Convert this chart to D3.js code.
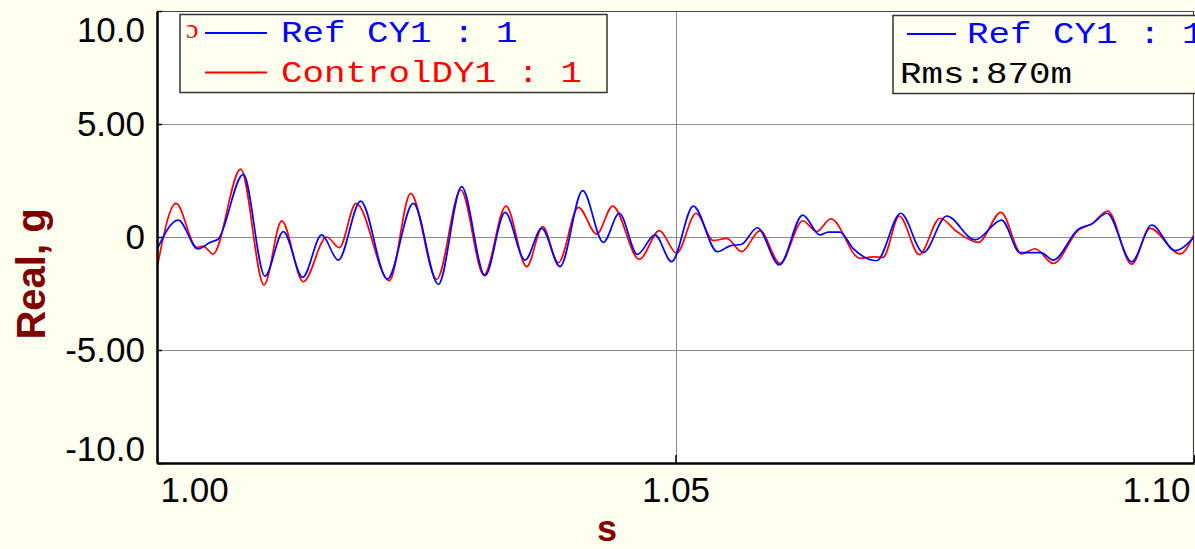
<!DOCTYPE html>
<html><head><meta charset="utf-8">
<script src="https://cdn.jsdelivr.net/npm/d3@7"></script>
<style>html,body{margin:0;padding:0;background:#FFFFF0;} svg{display:block}</style>
</head><body><svg id="c" width="1195" height="549"></svg>
<script>
// ---- data ----
const refTime = [1.00000,1.00205,1.00395,1.00511,1.00588,1.00832,1.01041,1.01218,1.01405,1.01588,1.01748,1.01964,1.02221,1.02472,1.02713,1.02938,1.03163,1.03356,1.03549,1.03710,1.03886,1.04105,1.04304,1.04458,1.04632,1.04802,1.04963,1.05172,1.05403,1.05526,1.05638,1.05789,1.06001,1.06227,1.06393,1.06471,1.06586,1.06712,1.06940,1.07172,1.07390,1.07615,1.07888,1.08145,1.08322,1.08524,1.08643,1.08884,1.09014,1.09161,1.09399,1.09592,1.09817,1.10000];
const refValues = [-0.55,0.75,-0.53,-0.24,-0.10,2.77,-1.73,0.24,-1.78,0.09,-1.02,1.59,-1.86,1.49,-2.09,2.23,-1.71,1.09,-1.02,0.38,-1.31,2.05,-0.24,1.05,-0.77,0.09,-1.09,1.37,-0.65,-0.39,-0.32,0.41,-1.24,0.97,0.09,0.22,0.22,-0.50,-1.05,1.05,-0.69,0.93,-0.13,0.75,-0.69,-0.69,-1.02,0.35,0.58,1.05,-1.10,0.53,-0.60,0.00];
const ctrlTime = [1.00000,1.00183,1.00383,1.00444,1.00540,1.00807,1.01032,1.01202,1.01411,1.01636,1.01758,1.01919,1.02240,1.02446,1.02697,1.02929,1.03153,1.03365,1.03565,1.03719,1.03870,1.04063,1.04240,1.04394,1.04651,1.04844,1.05011,1.05198,1.05365,1.05494,1.05638,1.05815,1.06008,1.06227,1.06362,1.06497,1.06779,1.06905,1.07001,1.07158,1.07351,1.07551,1.07712,1.07920,1.08139,1.08338,1.08467,1.08643,1.08884,1.09014,1.09168,1.09399,1.09576,1.09865,1.10000];
const ctrlValues = [-1.38,1.49,-0.46,-0.40,-0.75,3.00,-2.12,0.71,-1.98,0.00,-0.47,1.49,-1.93,1.93,-1.87,2.08,-1.68,1.37,-1.31,0.46,-1.14,1.31,0.13,1.37,-0.99,0.28,-0.72,1.05,-0.16,-0.06,-0.65,0.28,-1.17,0.72,0.24,0.80,-0.94,-0.88,-0.90,0.93,-0.78,0.83,0.24,-0.24,1.09,-0.75,-0.52,-1.17,0.30,0.58,1.15,-1.20,0.38,-0.75,0.10];
const xTicks = [1.00, 1.05, 1.10];
const xTickLabels = ["1.00", "1.05", "1.10"];
const yTicks = [10, 5, 0, -5, -10];
const yTickLabels = ["10.0", "5.00", "0", "-5.00", "-10.0"];
const gridY = [5, 0, -5];
const gridX = [1.05];
const legendLabels = ["Ref CY1 : 1", "ControlDY1 : 1"];
const rmsLabel = "Rms:870m";
const xTitle = "s";
const yTitle = "Real, g";

// ---- layout ----
const L = 157, R = 1194, T = 11, B = 463;
const svg = d3.select("#c");
const x = d3.scaleLinear().domain([1.00, 1.10]).range([L, R]);
const y = d3.scaleLinear().domain([-10, 10]).range([B, T]);

svg.append("rect").attr("width", 1195).attr("height", 549).attr("fill", "#FFFFF0");
svg.append("rect").attr("x", L).attr("y", T).attr("width", R - L).attr("height", B - T).attr("fill", "#FFFFFF");

// grid
svg.append("g").selectAll("line").data(gridY).join("line")
  .attr("x1", L).attr("x2", R).attr("y1", d => y(d) + 0.5).attr("y2", d => y(d) + 0.5)
  .attr("stroke", "#8c8c8c").attr("stroke-width", 1);
svg.append("g").selectAll("line").data(gridX).join("line")
  .attr("x1", d => Math.round(x(d)) + 0.5).attr("x2", d => Math.round(x(d)) + 0.5).attr("y1", T).attr("y2", B)
  .attr("stroke", "#8c8c8c").attr("stroke-width", 1);

// frame top/right
svg.append("line").attr("x1", L).attr("x2", R).attr("y1", T + 0.5).attr("y2", T + 0.5).attr("stroke", "#444").attr("stroke-width", 1.2);
svg.append("line").attr("x1", R - 0.5).attr("x2", R - 0.5).attr("y1", T).attr("y2", B).attr("stroke", "#444").attr("stroke-width", 1.2);

// lines
svg.append("defs").append("clipPath").attr("id", "clip").append("rect")
  .attr("x", L).attr("y", T).attr("width", R - L).attr("height", B - T);
const ctrlData = ctrlTime.map((t, i) => [t, ctrlValues[i]]);
const refData = refTime.map((t, i) => [t, refValues[i]]);
const line = d3.line().x(d => x(d[0])).y(d => y(d[1])).curve(d3.curveMonotoneX);
const gl = svg.append("g").attr("clip-path", "url(#clip)");
gl.append("path").attr("d", line(ctrlData)).attr("fill", "none").attr("stroke", "#FF0000").attr("stroke-width", 1.7);
gl.append("path").attr("d", line(refData)).attr("fill", "none").attr("stroke", "#0000FF").attr("stroke-width", 1.7);

// axes
const axFont = "'Liberation Sans', Arial, sans-serif";
const yAxis = svg.append("g").attr("transform", `translate(${L},0)`)
  .call(d3.axisLeft(y).tickValues(yTicks).tickFormat((d, i) => yTickLabels[i]).tickSize(-5).tickSizeOuter(0).tickPadding(12));
yAxis.select(".domain").attr("stroke", "#000").attr("stroke-width", 2.5);
yAxis.selectAll(".tick line").attr("stroke", "#000").attr("stroke-width", 1.5);
yAxis.selectAll(".tick text").attr("font-family", axFont).attr("font-size", 35).attr("fill", "#000")
  .attr("y", d => d === 10 ? 19 : (d === -10 ? -14 : 0));

const xAxis = svg.append("g").attr("transform", `translate(0,${B})`)
  .call(d3.axisBottom(x).tickValues(xTicks).tickFormat((d, i) => xTickLabels[i]).tickSize(-8).tickSizeOuter(0).tickPadding(14));
xAxis.select(".domain").attr("stroke", "#000").attr("stroke-width", 2.5);
xAxis.selectAll(".tick line").attr("stroke", "#000").attr("stroke-width", 1.5);
xAxis.selectAll(".tick text").attr("font-family", axFont).attr("font-size", 35).attr("fill", "#000")
  .attr("text-anchor", (d, i) => i === 0 ? "start" : (i === xTicks.length - 1 ? "end" : "middle"))
  .attr("x", (d, i) => i === 0 ? 3 : (i === xTicks.length - 1 ? -4 : 0));

// titles
svg.append("text").attr("x", 607).attr("y", 541).attr("text-anchor", "middle")
  .attr("font-family", axFont).attr("font-weight", "bold").attr("font-size", 36).attr("fill", "#800000").text(xTitle);
svg.append("text").attr("transform", "translate(45,274) rotate(-90)").attr("text-anchor", "middle")
  .attr("font-family", axFont).attr("font-weight", "bold").attr("font-size", 40).attr("fill", "#800000").text(yTitle);

// legends
const monoFont = "'Courier New', 'Liberation Mono', monospace";
const lg = svg.append("g");
lg.append("rect").attr("x", 180).attr("y", 14.5).attr("width", 427).attr("height", 78)
  .attr("fill", "#FFFFF0").attr("stroke", "#333").attr("stroke-width", 1.5);
lg.append("text").attr("x", 186).attr("y", 38).attr("font-family", "'Liberation Serif', serif").attr("font-size", 28).attr("fill", "#FF0000").text("ɔ");
const legColors = ["#0000FF", "#FF0000"];
const legY = [42, 81.5];
legendLabels.forEach((lab, i) => {
  lg.append("line").attr("x1", 205).attr("x2", 267).attr("y1", legY[i] - 9).attr("y2", legY[i] - 9)
    .attr("stroke", legColors[i]).attr("stroke-width", 2);
  lg.append("text").attr("x", 281).attr("y", legY[i]).attr("font-family", monoFont).attr("font-size", 30)
    .attr("textLength", lab.length * 21.5).attr("lengthAdjust", "spacingAndGlyphs")
    .attr("fill", legColors[i]).text(lab);
});

const lg2 = svg.append("g");
lg2.append("rect").attr("x", 893).attr("y", 15.5).attr("width", 320).attr("height", 78)
  .attr("fill", "#FFFFF0").attr("stroke", "#333").attr("stroke-width", 1.5);
lg2.append("line").attr("x1", 907).attr("x2", 956).attr("y1", 34).attr("y2", 34).attr("stroke", "#0000FF").attr("stroke-width", 2);
lg2.append("text").attr("x", 967).attr("y", 43).attr("font-family", monoFont).attr("font-size", 30)
  .attr("textLength", legendLabels[0].length * 21.5).attr("lengthAdjust", "spacingAndGlyphs")
  .attr("fill", "#0000FF").text(legendLabels[0]);
lg2.append("text").attr("x", 900).attr("y", 83).attr("font-family", monoFont).attr("font-size", 30)
  .attr("textLength", rmsLabel.length * 21.5).attr("lengthAdjust", "spacingAndGlyphs")
  .attr("fill", "#000").text(rmsLabel);
</script></body></html>
